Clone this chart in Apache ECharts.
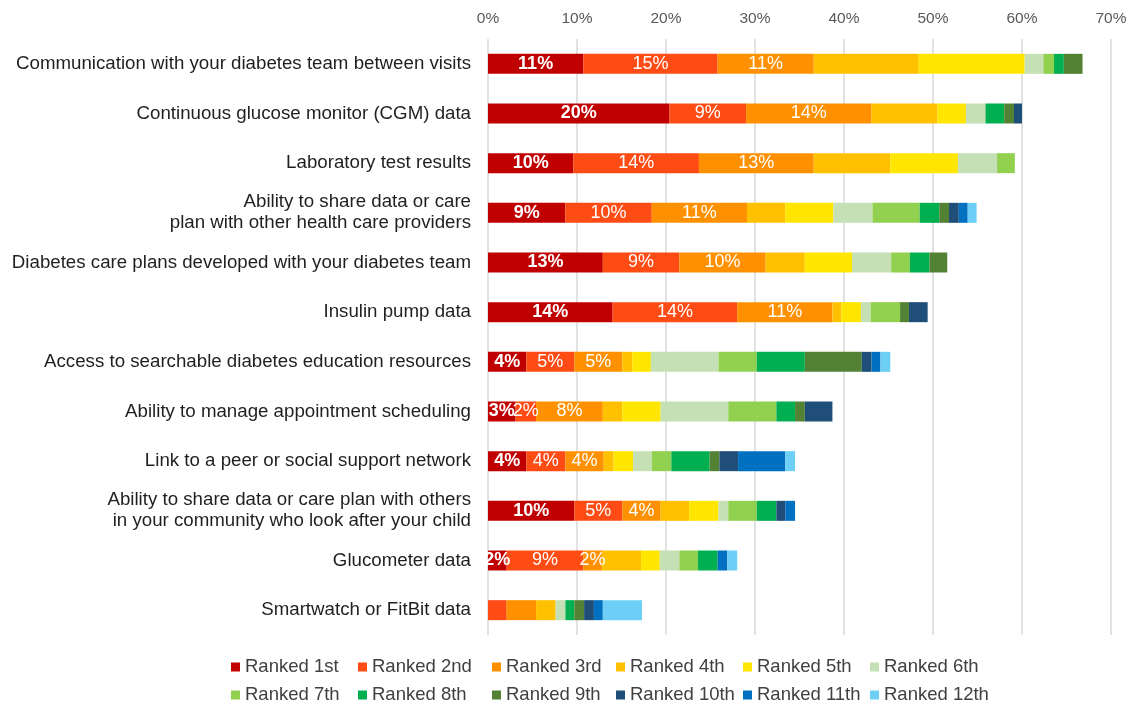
<!DOCTYPE html>
<html>
<head>
<meta charset="utf-8">
<script src="https://cdn.jsdelivr.net/npm/echarts@6/dist/echarts.min.js"></script>
<style>
html,body{margin:0;padding:0;background:#fff;}
#chart{width:1130px;height:704px;}
</style>
</head>
<body>
<div id="chart"></div>
<script>
const categories = [
  'Communication with your diabetes team between visits',
  'Continuous glucose monitor (CGM) data',
  'Laboratory test results',
  'Ability to share data or care\nplan with other health care providers',
  'Diabetes care plans developed with your diabetes team',
  'Insulin pump data',
  'Access to searchable diabetes education resources',
  'Ability to manage appointment scheduling',
  'Link to a peer or social support network',
  'Ability to share data or care plan with others\nin your community who look after your child',
  'Glucometer data',
  'Smartwatch or FitBit data'
];
const seriesNames = ['Ranked 1st','Ranked 2nd','Ranked 3rd','Ranked 4th','Ranked 5th','Ranked 6th',
  'Ranked 7th','Ranked 8th','Ranked 9th','Ranked 10th','Ranked 11th','Ranked 12th'];
const ranked1  = [10.7, 20.4,  9.6,  8.7, 12.9, 14.0, 4.3, 3.1, 4.3, 9.7, 2.1, 0];
const ranked2  = [15.1,  8.6, 14.1,  9.7,  8.6, 14.0, 5.4, 2.3, 4.4, 5.4, 8.6, 2.1];
const ranked3  = [10.8, 14.1, 12.9, 10.7,  9.7, 10.7, 5.4, 7.5, 4.3, 4.3, 2.1, 3.3];
const ranked4  = [11.8,  7.4,  8.6,  4.3,  4.4,  1.0, 1.1, 2.2, 1.1, 3.2, 4.4, 2.2];
const ranked5  = [11.9,  3.2,  7.6,  5.4,  5.3,  2.2, 2.1, 4.3, 2.2, 3.3, 2.1, 0];
const ranked6  = [ 2.1,  2.2,  4.4,  4.4,  4.4,  1.1, 7.6, 7.6, 2.1, 1.1, 2.2, 1.1];
const ranked7  = [ 1.2,  0,    2.0,  5.3,  2.1,  3.3, 4.3, 5.4, 2.2, 3.2, 2.1, 0];
const ranked8  = [ 1.1,  2.1,  0,    2.2,  2.2,  0,   5.4, 2.1, 4.3, 2.2, 2.2, 1.0];
const ranked9  = [ 2.1,  1.1,  0,    1.1,  2.0,  1.0, 6.4, 1.1, 1.1, 0,   0,   1.1];
const ranked10 = [ 0,    0.9,  0,    1.1,  0,    2.1, 1.1, 3.1, 2.1, 1.0, 0,   1.1];
const ranked11 = [ 0,    0,    0,    1.0,  0,    0,   1.0, 0,   5.3, 1.1, 1.1, 1.0];
const ranked12 = [ 0,    0,    0,    1.0,  0,    0,   1.1, 0,   1.1, 0,   1.1, 4.4];
const seriesValues = [ranked1,ranked2,ranked3,ranked4,ranked5,ranked6,ranked7,ranked8,ranked9,ranked10,ranked11,ranked12];
const axisTicks = [0,10,20,30,40,50,60,70];
const labelledSeriesCount = 3;
const unlabelledCategories = ['Smartwatch or FitBit data'];

const colors = ['#C00000','#FF4B14','#FF9100','#FFC000','#FFE600','#C5E0B4',
  '#92D050','#00B050','#548235','#1F4E79','#0070C0','#6DCFF6'];
const FONT = 'Liberation Sans, Arial, sans-serif';

const series = seriesNames.map((name, i) => ({
  name: name,
  type: 'bar',
  stack: 'total',
  barWidth: 20,
  itemStyle: { color: colors[i] },
  emphasis: { disabled: true },
  label: {
    show: i < labelledSeriesCount,
    position: 'inside',
    color: '#fff',
    fontFamily: FONT,
    fontSize: 18,
    fontWeight: i === 0 ? 'bold' : 'normal',
    formatter: p => (unlabelledCategories.indexOf(p.name) >= 0 || !p.value) ? '' : Math.round(p.value) + '%'
  },
  data: seriesValues[i]
}));

// legend laid out as 6 columns x 2 rows (column-aligned like the original)
const legendColumnLeft = [231, 358, 492, 616, 743, 870];
const legends = legendColumnLeft.map((left, c) => ({
  left: left,
  top: 657,
  height: 80,
  orient: 'vertical',
  itemWidth: 9,
  itemHeight: 9,
  itemGap: 8,
  icon: 'rect',
  padding: 0,
  textStyle: { fontFamily: FONT, fontSize: 18.5, lineHeight: 20, color: '#404040' },
  data: [seriesNames[c], seriesNames[c + 6]]
}));

const chart = echarts.init(document.getElementById('chart'), null, { renderer: 'canvas' });
chart.setOption({
  animation: false,
  color: colors,
  grid: { left: 488, right: 19, top: 39, bottom: 69 },
  xAxis: {
    type: 'value',
    position: 'top',
    min: axisTicks[0],
    max: axisTicks[axisTicks.length - 1],
    interval: 10,
    axisLine: { show: false },
    axisTick: { show: false },
    splitLine: { lineStyle: { color: '#D9D9D9', width: 1.5 } },
    axisLabel: { formatter: v => v + '%', fontFamily: FONT, fontSize: 15.5, color: '#595959', margin: 12 }
  },
  yAxis: {
    type: 'category',
    inverse: true,
    data: categories,
    axisLine: { show: false },
    axisTick: { show: false },
    axisLabel: { fontFamily: FONT, fontSize: 18.7, color: '#1F1F1F', margin: 17, lineHeight: 21, align: 'right' }
  },
  legend: legends,
  series: series
});
</script>
</body>
</html>
